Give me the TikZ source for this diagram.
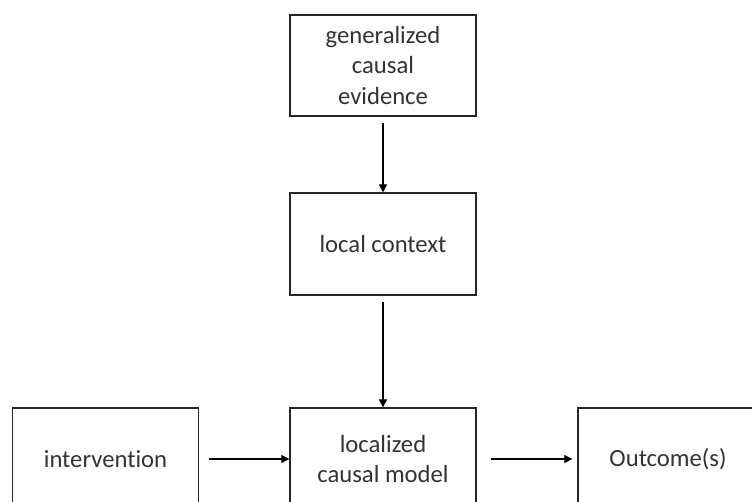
\documentclass[tikz,border=0pt]{standalone}
\usepackage{fontspec}
\setmainfont{Carlito}[Ligatures=NoCommon]
\usetikzlibrary{arrows.meta}
\begin{document}
\begin{tikzpicture}[x=0.75pt,y=-0.75pt,
  box/.style={draw=black!85,line width=1pt,rectangle,minimum width=139.5pt,
    minimum height=76.5pt,inner sep=0pt,align=center,text=black!80,
    font=\fontsize{18.5}{23}\selectfont},
  link/.style={draw=black,line width=0.8pt,-{Triangle[length=6pt,width=6pt]}}]
\useasboundingbox (0,0) rectangle (752,501);
\clip (0,0) rectangle (752,501);
\fill[white] (0,0) rectangle (752,501);
\node[box,minimum height=75.75pt] (gen) at (383,65.5) {generalized\\causal\\evidence};
\node[box] (ctx) at (383,244) {local context};
\node[box] (mod) at (383,459) {localized\\causal model};
\node[box] (int) at (105.5,459) {intervention};
% the right-hand box runs on past the edge of the page
\node[box,minimum width=165pt] (out) at (688,459) {\hspace*{-30pt}Outcome(s)};
\draw[link,shorten <=4.5pt] (gen) -- (ctx);
\draw[link,shorten <=5pt] (ctx) -- (mod);
\draw[link,shorten <=7.5pt] (int) -- (mod);
\draw[link,shorten <=10.5pt,shorten >=3.75pt] (mod) -- (out);
\end{tikzpicture}
\end{document}
